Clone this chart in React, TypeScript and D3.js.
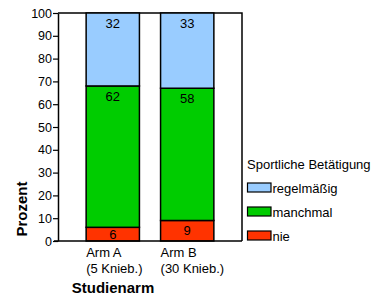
import { useEffect, useRef } from "react";
import * as d3 from "d3";

const categories = ["Arm A", "Arm B"];
const categorySub = ["(5 Knieb.)", "(30 Knieb.)"];
const seriesNames = ["nie", "manchmal", "regelmäßig"];
const nie = [6, 9];
const manchmal = [62, 58];
const regelmaessig = [32, 33];
const yTicks = [0, 10, 20, 30, 40, 50, 60, 70, 80, 90, 100];

const COLORS = ["#ff3300", "#00cc00", "#99ccff"];
const FONT = "Liberation Sans, Arial, sans-serif";

export default function App() {
  const ref = useRef<SVGSVGElement>(null);

  useEffect(() => {
    if (!ref.current) return;
    const svg = d3.select(ref.current);
    svg.selectAll("*").remove();

    const left = 58;
    const right = 242;
    const top = 13;
    const bottom = 241;

    const x = d3
      .scaleBand()
      .domain(categories)
      .range([left, right])
      .paddingInner(0.284)
      .paddingOuter(0.378);

    const y = d3.scaleLinear().domain([0, 100]).range([bottom, top]);

    const series = [nie, manchmal, regelmaessig];
    const rows = categories.map((c, i) => {
      const r: Record<string, number | string> = { cat: c };
      seriesNames.forEach((s, k) => (r[s] = series[k][i]));
      return r;
    });
    const stacked = d3.stack<any>().keys(seriesNames)(rows);

    const g = svg.append("g");

    // frame top/right
    g.append("path")
      .attr("d", `M${left},${top}H${right}V${bottom}`)
      .attr("fill", "none")
      .attr("stroke", "#000")
      .attr("stroke-width", 1.5);

    stacked.forEach((layer, k) => {
      layer.forEach((d, i) => {
        const cx = x(categories[i])!;
        const y0 = y(d[0]);
        const y1 = y(d[1]);
        g.append("rect")
          .attr("x", cx)
          .attr("y", y1)
          .attr("width", x.bandwidth())
          .attr("height", y0 - y1)
          .attr("fill", COLORS[k])
          .attr("stroke", "#000")
          .attr("stroke-width", 1.5);
        g.append("text")
          .attr("x", cx + x.bandwidth() / 2)
          .attr("y", Math.min(y1 + 15, (y0 + y1) / 2 + 4.5))
          .attr("text-anchor", "middle")
          .attr("font-family", FONT)
          .attr("font-size", 13)
          .text(series[k][i]);
      });
    });

    // y axis
    const yAxis = g
      .append("g")
      .attr("transform", `translate(${left},0)`)
      .call(d3.axisLeft(y).tickValues(yTicks).tickSize(5).tickSizeOuter(0));
    yAxis.select(".domain").attr("stroke-width", 1.5);
    yAxis.selectAll(".tick line").attr("stroke-width", 1.2);
    yAxis
      .selectAll(".tick text")
      .attr("font-family", FONT)
      .attr("font-size", 12.5)
      .attr("fill", "#000")
      .attr("x", -6);

    // x baseline
    g.append("line")
      .attr("x1", left - 4)
      .attr("x2", right)
      .attr("y1", bottom)
      .attr("y2", bottom)
      .attr("stroke", "#000")
      .attr("stroke-width", 1.5);

    // category labels
    categories.forEach((c, i) => {
      const t = g
        .append("text")
        .attr("y", 257)
        .attr("font-family", FONT)
        .attr("font-size", 13);
      t.append("tspan").attr("x", x(c)!).text(c);
      t.append("tspan").attr("x", x(c)!).attr("dy", 16).text(categorySub[i]);
    });

    // axis titles
    g.append("text")
      .attr("x", 113)
      .attr("y", 293)
      .attr("text-anchor", "middle")
      .attr("font-family", FONT)
      .attr("font-size", 15)
      .attr("font-weight", "bold")
      .text("Studienarm");

    g.append("text")
      .attr("transform", `translate(27,209) rotate(-90)`)
      .attr("text-anchor", "middle")
      .attr("font-family", FONT)
      .attr("font-size", 15)
      .attr("font-weight", "bold")
      .text("Prozent");

    // legend
    const lg = g.append("g").attr("transform", "translate(246,0)");
    lg.append("text")
      .attr("x", 1)
      .attr("y", 169)
      .attr("font-family", FONT)
      .attr("font-size", 13)
      .text("Sportliche Betätigung");
    const legendOrder = [2, 1, 0];
    legendOrder.forEach((k, j) => {
      const ly = 183 + j * 24;
      lg.append("rect")
        .attr("x", 1.5)
        .attr("y", ly)
        .attr("width", 23.5)
        .attr("height", 9)
        .attr("fill", COLORS[k])
        .attr("stroke", "#000")
        .attr("stroke-width", 1.2);
      lg.append("text")
        .attr("x", 26.5)
        .attr("y", ly + 9.5)
        .attr("font-family", FONT)
        .attr("font-size", 13)
        .text(seriesNames[k]);
    });
  }, []);

  return (
    <svg
      ref={ref}
      width={373}
      height={298}
      style={{ position: "absolute", left: 0, top: 0, background: "#fff" }}
    />
  );
}
